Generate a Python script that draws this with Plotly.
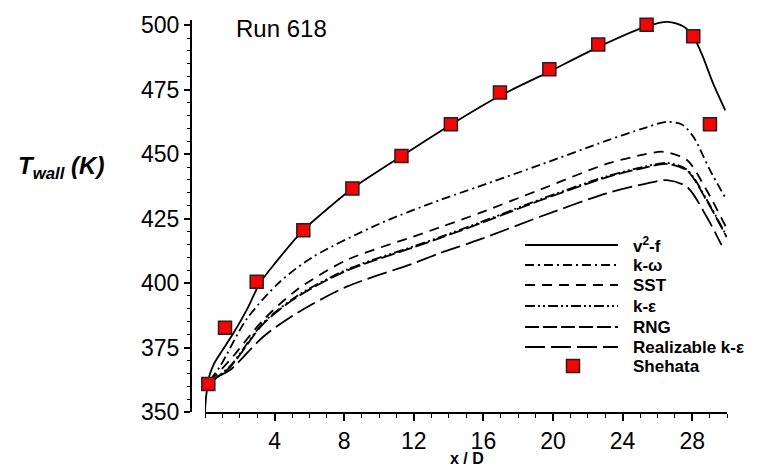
import plotly.graph_objects as go

# ---------------- data ----------------
x_exp = [0.19, 1.15, 2.97, 5.65, 8.47, 11.29, 14.13, 16.95, 19.79, 22.6, 25.38, 28.06, 29.02]
T_exp = [360.9, 382.7, 400.5, 420.5, 436.7, 449.3, 461.6, 473.9, 482.9, 492.5, 500.2, 495.7, 461.6]

x_v2f = [0, 0.03, 0.1, 0.25, 0.5, 0.86, 1.63, 2.39, 3.16, 4.1, 5.65, 7.18, 8.47, 11.29, 14.13,
         16.95, 19.79, 22.6, 25.4, 26.6, 27.5, 28.06, 28.6, 29.2, 29.9]
T_v2f = [350, 353.5, 358, 364, 368.5, 372.5, 380.5, 389.5, 400, 408.3, 420.5, 429.6, 436.7, 449.2, 461.4,
         472.6, 482, 491.5, 499.6, 501.3, 499.5, 495.7, 488, 477.4, 467]

x_kw = [0.29, 0.86, 2.39, 4.31, 6.22, 10.06, 13.5, 15.8, 19.25, 23.08, 25.2, 26.53, 27.4, 28.07, 29.02, 29.98]
T_kw = [362.4, 367.6, 386, 400.5, 410.2, 423.1, 432.2, 437.6, 445.8, 455.2, 460, 462.5, 461.5, 456.7, 443.8, 432.2]

x_sst = [0.29, 1.44, 3.35, 5.27, 8.14, 11.97, 13.5, 15.8, 19.25, 23.08, 25.2, 26.34, 27.7, 28.83, 29.98]
T_sst = [362, 370.2, 385.7, 397.3, 408.9, 418, 421.6, 427.2, 436.2, 446.2, 449.8, 450.9, 447.7, 436, 421.2]

x_ke = [0.29, 1.44, 3.35, 5.27, 8.14, 11.97, 13.5, 15.8, 19.25, 23.08, 25.3, 26.53, 27.7, 28.83, 29.98]
T_ke = [361.5, 367.8, 384.6, 394.9, 405.2, 414.2, 417.8, 423.5, 432.4, 441.4, 445.2, 446.6, 444, 432.4, 418.2]

x_rng = [0.29, 1.44, 3.35, 5.27, 8.14, 11.97, 13.5, 15.8, 19.25, 23.08, 25.3, 26.53, 27.7, 28.83, 29.98]
T_rng = [361.5, 367.4, 384.2, 394.5, 404.8, 413.8, 417.4, 423.1, 432, 441, 444.8, 446.2, 443.6, 432, 417.8]

x_rke = [0.67, 1.44, 3.35, 5.27, 8.14, 11.97, 13.5, 15.8, 19.25, 23.08, 25.3, 26.53, 27.7, 28.83, 29.69]
T_rke = [363.7, 366.3, 379.2, 388.3, 398.6, 407.6, 411.6, 416.9, 425.7, 434.8, 438.5, 439.9, 437.3, 425.7, 414.7]

x_ticks = [4, 8, 12, 16, 20, 24, 28]
y_ticks = [350, 375, 400, 425, 450, 475, 500]

legend_labels = ["v<sup>2</sup>-f", "k-ω", "SST", "k-ε", "RNG", "Realizable k-ε", "Shehata"]

# ---------------- styles ----------------
FONT = "Liberation Sans, Arial, sans-serif"
OFF = 8  # page body margin
W, H = 762 - OFF, 466 - OFF
ML, MR, MT, MB = 183, 35, 12, 54
PW, PH = W - ML - MR, H - MT - MB


def px2x(px):
    return (px - OFF - ML) / PW


def py2y(py):
    return (H - MB - (py - OFF)) / PH


models = [
    (x_v2f, T_v2f, "solid"),
    (x_kw, T_kw, "9px,4px,2px,4px"),
    (x_sst, T_sst, "10px,7px"),
    (x_ke, T_ke, "10px,3px,2px,3px,2px,3px"),
    (x_rng, T_rng, "14px,4px"),
    (x_rke, T_rke, "20px,6px"),
]

fig = go.Figure()
for (xs, ts, dash), name in zip(models, legend_labels):
    fig.add_trace(go.Scatter(x=xs, y=ts, mode="lines", name=name,
                             line=dict(color="black", width=1.8, dash=dash, shape="spline", smoothing=0.8),
                             showlegend=False))

fig.add_trace(go.Scatter(x=x_exp, y=T_exp, mode="markers", name="Shehata",
                         marker=dict(symbol="square", size=13, color="#ff0000",
                                     line=dict(color="#222222", width=1.5)),
                         showlegend=False, cliponaxis=False))

# manual legend
shapes = []
annotations = []
row_y = [245, 265, 285, 306, 327, 347, 366]
for i, (m, label) in enumerate(zip(models, legend_labels[:6])):
    shapes.append(dict(type="line", xref="paper", yref="paper",
                       x0=px2x(525), x1=px2x(618), y0=py2y(row_y[i]), y1=py2y(row_y[i]),
                       line=dict(color="black", width=1.8, dash=m[2])))
for i, label in enumerate(legend_labels):
    annotations.append(dict(text="<b>" + label + "</b>", xref="paper", yref="paper",
                            x=px2x(631), y=py2y(row_y[i]), xanchor="left", yanchor="middle",
                            showarrow=False, font=dict(family=FONT, size=17, color="black")))
shapes.append(dict(type="rect", xref="paper", yref="paper",
                   x0=px2x(566.5), x1=px2x(579.5), y0=py2y(372.5), y1=py2y(359.5),
                   fillcolor="#ff0000", line=dict(color="#222222", width=1.5)))

annotations.append(dict(text="Run 618", xref="paper", yref="paper", x=px2x(281), y=py2y(28),
                        xanchor="center", yanchor="middle", showarrow=False,
                        font=dict(family=FONT, size=24, color="black")))
annotations.append(dict(text="<b><i>T<sub>wall</sub> (K)</i></b>", xref="paper", yref="paper",
                        x=px2x(61), y=py2y(167), xanchor="center", yanchor="middle", showarrow=False,
                        font=dict(family=FONT, size=24, color="black")))
annotations.append(dict(text="<b>x / D</b>", xref="paper", yref="paper",
                        x=px2x(467), y=py2y(458), xanchor="center", yanchor="middle", showarrow=False,
                        font=dict(family=FONT, size=16, color="black")))

fig.update_layout(
    width=W, height=H,
    margin=dict(l=ML, r=MR, t=MT, b=MB, autoexpand=False),
    paper_bgcolor="white", plot_bgcolor="white",
    font=dict(family=FONT, color="black"),
    xaxis=dict(domain=[14 / PW, 1], range=[0, 30], tickmode="array", tickvals=x_ticks,
               ticks="outside", ticklen=7, tickwidth=1.5, tickcolor="black",
               showline=True, linecolor="black", linewidth=2, showgrid=False, zeroline=False,
               tickfont=dict(family=FONT, size=23, color="black"),
               minor=dict(tickmode="linear", tick0=0, dtick=1, ticks="outside", ticklen=4,
                          tickwidth=1.2, tickcolor="black", showgrid=False)),
    yaxis=dict(anchor="free", position=0, range=[350, 502], tickmode="array", tickvals=y_ticks,
               ticks="outside", ticklen=6, tickwidth=1.5, tickcolor="black",
               showline=True, linecolor="black", linewidth=2.2, showgrid=False, zeroline=False,
               tickfont=dict(family=FONT, size=23, color="black"),
               minor=dict(tickmode="linear", tick0=350, dtick=5, ticks="outside", ticklen=3,
                          tickwidth=1.2, tickcolor="black", showgrid=False)),
    yaxis2=dict(overlaying="y", anchor="free", position=0, range=[350, 502], tickmode="array",
                tickvals=y_ticks, ticks="inside", ticklen=6, tickwidth=1.5, tickcolor="black",
                showticklabels=False, showline=False, showgrid=False, zeroline=False,
                minor=dict(tickmode="linear", tick0=350, dtick=5, ticks="inside", ticklen=3,
                           tickwidth=1.2, tickcolor="black", showgrid=False)),
    shapes=shapes,
    annotations=annotations,
    showlegend=False,
)

fig.write_html("out.html")
